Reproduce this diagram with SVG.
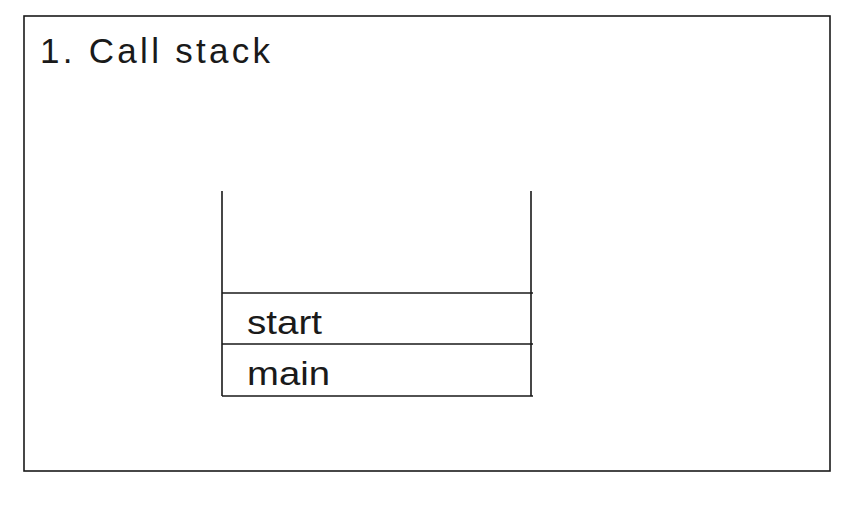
<svg xmlns="http://www.w3.org/2000/svg" width="852" height="514" viewBox="0 0 852 514">
<style>
.ln{stroke:#1a1a1a;stroke-width:1.6;fill:none}
.t{font-family:"Liberation Sans",Arial,sans-serif;fill:#1a1a1a}
</style>
<rect x="0" y="0" width="852" height="514" fill="#fff"/>
<g id="frame">
<rect class="ln" x="24" y="16" width="806" height="455"/>
<text class="t" x="40" y="63" font-size="35" textLength="230" lengthAdjust="spacing">1. Call stack</text>
</g>
<g id="stack">
<path class="ln" d="M222,191 V396 M531,191 V396"/>
</g>
<g id="frame-start">
<path class="ln" d="M222,293 H533"/>
<text class="t" x="247" y="334" font-size="34" textLength="75" lengthAdjust="spacingAndGlyphs">start</text>
</g>
<g id="frame-main">
<path class="ln" d="M222,344 H533 M222,396 H533"/>
<text class="t" x="247" y="385" font-size="34" textLength="83" lengthAdjust="spacingAndGlyphs">main</text>
</g>
<g id="connectors"/>
</svg>
